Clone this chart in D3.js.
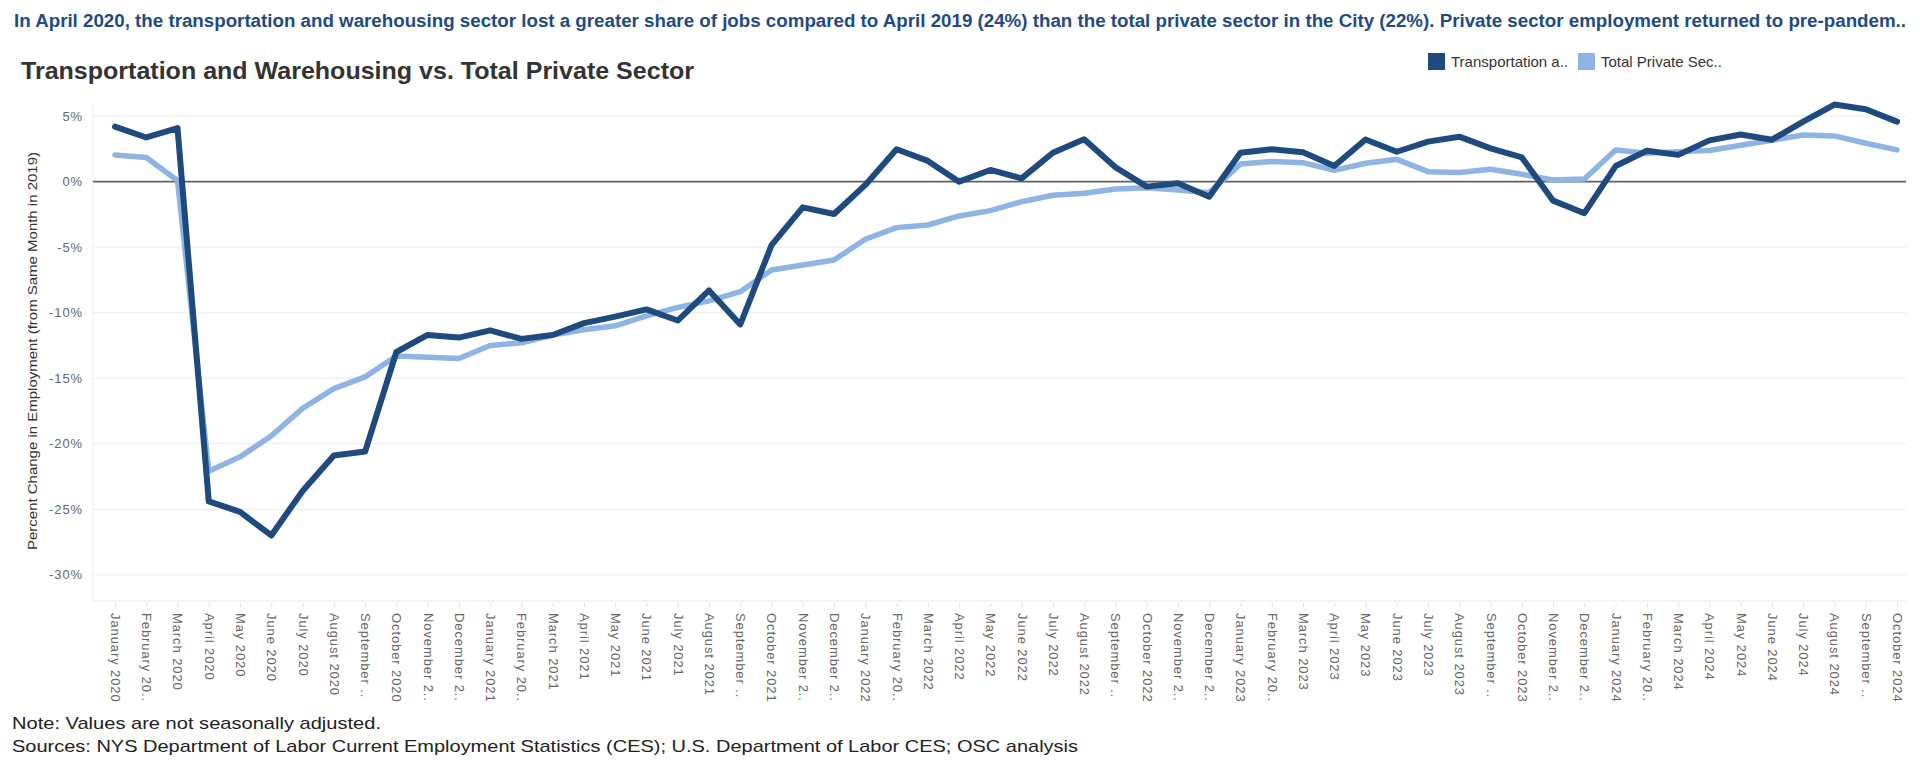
<!DOCTYPE html>
<html>
<head>
<meta charset="utf-8">
<script src="https://cdn.jsdelivr.net/npm/d3@7"></script>
<style>
  html, body { margin: 0; padding: 0; background: #fff; }
  svg { display: block; font-family: "Liberation Sans", Arial, sans-serif; }
</style>
</head>
<body>
<svg id="chart" width="1920" height="769"></svg>
<script>
const categories = [
  "January 2020","February 2020","March 2020","April 2020","May 2020","June 2020","July 2020","August 2020","September 2020","October 2020","November 2020","December 2020",
  "January 2021","February 2021","March 2021","April 2021","May 2021","June 2021","July 2021","August 2021","September 2021","October 2021","November 2021","December 2021",
  "January 2022","February 2022","March 2022","April 2022","May 2022","June 2022","July 2022","August 2022","September 2022","October 2022","November 2022","December 2022",
  "January 2023","February 2023","March 2023","April 2023","May 2023","June 2023","July 2023","August 2023","September 2023","October 2023","November 2023","December 2023",
  "January 2024","February 2024","March 2024","April 2024","May 2024","June 2024","July 2024","August 2024","September 2024","October 2024"
];
const tickLabels = [
  "January 2020","February 20..","March 2020","April 2020","May 2020","June 2020","July 2020","August 2020","September ..","October 2020","November 2..","December 2..",
  "January 2021","February 20..","March 2021","April 2021","May 2021","June 2021","July 2021","August 2021","September ..","October 2021","November 2..","December 2..",
  "January 2022","February 20..","March 2022","April 2022","May 2022","June 2022","July 2022","August 2022","September ..","October 2022","November 2..","December 2..",
  "January 2023","February 20..","March 2023","April 2023","May 2023","June 2023","July 2023","August 2023","September ..","October 2023","November 2..","December 2..",
  "January 2024","February 20..","March 2024","April 2024","May 2024","June 2024","July 2024","August 2024","September ..","October 2024"
];
const transportation = [
  4.2, 3.37, 4.08, -24.4, -25.2, -27.0, -23.6, -20.9, -20.6, -13.0, -11.7, -11.9,
  -11.35, -12.0, -11.7, -10.8, -10.3, -9.75, -10.6, -8.3, -10.9, -4.85, -1.96, -2.47,
  -0.25, 2.47, 1.58, 0.0, 0.89, 0.25, 2.2, 3.23, 1.1, -0.38, -0.13, -1.15,
  2.2, 2.47, 2.25, 1.19, 3.22, 2.28, 3.05, 3.43, 2.54, 1.85, -1.45, -2.41,
  1.19, 2.36, 2.04, 3.15, 3.6, 3.2, 4.58, 5.88, 5.52, 4.58
];
const totalPrivate = [
  2.04, 1.84, 0.08, -22.1, -21.0, -19.4, -17.3, -15.8, -14.9, -13.3, -13.4, -13.5,
  -12.5, -12.3, -11.7, -11.3, -11.0, -10.25, -9.6, -9.1, -8.4, -6.74, -6.36, -5.98,
  -4.4, -3.51, -3.31, -2.62, -2.21, -1.53, -1.04, -0.89, -0.56, -0.46, -0.64, -0.84,
  1.35, 1.53, 1.45, 0.86, 1.4, 1.7, 0.76, 0.69, 0.94, 0.56, 0.13, 0.2,
  2.41, 2.16, 2.29, 2.37, 2.78, 3.15, 3.56, 3.49, 2.93, 2.42
];
const yTickValues = [5, 0, -5, -10, -15, -20, -25, -30];
const seriesNames = ["Transportation a..", "Total Private Sec.."];

const colors = { dark: "#1f4a7e", light: "#8db4e3" };
const svg = d3.select("#chart");
svg.append("rect").attr("width", 1920).attr("height", 769).attr("fill", "#fff");

const plot = { left: 93, right: 1906, top: 103, bottom: 601 };

const x = d3.scalePoint().domain(categories).range([115, 1897]);
const y = d3.scaleLinear().domain([-32, 6]).range([plot.bottom, plot.top]);

// subtitle
svg.append("text")
  .attr("x", 14).attr("y", 27)
  .attr("font-size", 18).attr("font-weight", "bold").attr("fill", "#1f4b84")
  .attr("textLength", 1892).attr("lengthAdjust", "spacingAndGlyphs")
  .text("In April 2020, the transportation and warehousing sector lost a greater share of jobs compared to April 2019 (24%) than the total private sector in the City (22%). Private sector employment returned to pre-pandem..");

// title
svg.append("text")
  .attr("x", 21).attr("y", 79)
  .attr("font-size", 24).attr("font-weight", "bold").attr("fill", "#333")
  .attr("textLength", 673).attr("lengthAdjust", "spacingAndGlyphs")
  .text("Transportation and Warehousing vs. Total Private Sector");

// legend
const legend = svg.append("g");
const legendItems = [
  { name: seriesNames[0], color: colors.dark, x: 1428 },
  { name: seriesNames[1], color: colors.light, x: 1578 }
];
legendItems.forEach(d => {
  legend.append("rect").attr("x", d.x).attr("y", 53).attr("width", 17).attr("height", 17).attr("fill", d.color);
  legend.append("text").attr("x", d.x + 23).attr("y", 66.5)
    .attr("font-size", 15).attr("fill", "#333").text(d.name);
});

// gridlines
const grid = svg.append("g");
grid.selectAll("line.grid").data(yTickValues.filter(v => v !== 0)).join("line")
  .attr("class", "grid")
  .attr("x1", plot.left).attr("x2", plot.right)
  .attr("y1", d => y(d)).attr("y2", d => y(d))
  .attr("stroke", "#ececec").attr("stroke-width", 1);
// plot frame (left + bottom)
svg.append("line").attr("x1", plot.left).attr("x2", plot.left).attr("y1", plot.top).attr("y2", plot.bottom)
  .attr("stroke", "#ececec");
svg.append("line").attr("x1", plot.left).attr("x2", plot.right).attr("y1", plot.bottom).attr("y2", plot.bottom)
  .attr("stroke", "#ececec");
// zero line
svg.append("line").attr("x1", plot.left).attr("x2", plot.right).attr("y1", y(0)).attr("y2", y(0))
  .attr("stroke", "#616161").attr("stroke-width", 1.7);

// y axis
const yAxis = svg.append("g").attr("transform", `translate(${plot.left},0)`)
  .call(d3.axisLeft(y).tickValues(yTickValues).tickFormat(d => d + "%").tickSize(0).tickPadding(10));
yAxis.select(".domain").remove();
yAxis.selectAll("text").attr("font-size", 13).attr("fill", "#666").attr("letter-spacing", 0.9)
  .attr("font-family", "Liberation Sans, Arial, sans-serif");

// y axis title
svg.append("text")
  .attr("transform", `translate(37,${(152 + 550) / 2}) rotate(-90)`)
  .attr("text-anchor", "middle").attr("font-size", 13).attr("fill", "#333")
  .attr("textLength", 398).attr("lengthAdjust", "spacingAndGlyphs")
  .text("Percent Change in Employment (from Same Month in 2019)");

// x axis
const xAxis = svg.append("g").attr("transform", `translate(0,${plot.bottom + 2})`)
  .call(d3.axisBottom(x).tickFormat((d, i) => tickLabels[i]).tickSize(4).tickPadding(0));
xAxis.select(".domain").remove();
xAxis.selectAll(".tick line").attr("stroke", "#e0e0e0");
xAxis.selectAll("text")
  .attr("font-size", 13).attr("fill", "#666").attr("letter-spacing", 0.9)
  .attr("font-family", "Liberation Sans, Arial, sans-serif")
  .attr("text-anchor", "start")
  .attr("transform", "rotate(90)")
  .attr("x", 10).attr("y", 0).attr("dy", "0.35em");

// lines
const line = d3.line().x((d, i) => x(categories[i])).y(d => y(d));
svg.append("path").datum(totalPrivate).attr("d", line)
  .attr("fill", "none").attr("stroke", colors.light).attr("stroke-width", 5.5)
  .attr("stroke-linejoin", "round").attr("stroke-linecap", "round");
svg.append("path").datum(transportation).attr("d", line)
  .attr("fill", "none").attr("stroke", colors.dark).attr("stroke-width", 6)
  .attr("stroke-linejoin", "round").attr("stroke-linecap", "round");

// footer
svg.append("text").attr("x", 12).attr("y", 729).attr("font-size", 17).attr("fill", "#222")
  .attr("textLength", 369).attr("lengthAdjust", "spacingAndGlyphs")
  .text("Note: Values are not seasonally adjusted.");
svg.append("text").attr("x", 12).attr("y", 752).attr("font-size", 17).attr("fill", "#222")
  .attr("textLength", 1066).attr("lengthAdjust", "spacingAndGlyphs")
  .text("Sources: NYS Department of Labor Current Employment Statistics (CES); U.S. Department of Labor CES; OSC analysis");
</script>
</body>
</html>
